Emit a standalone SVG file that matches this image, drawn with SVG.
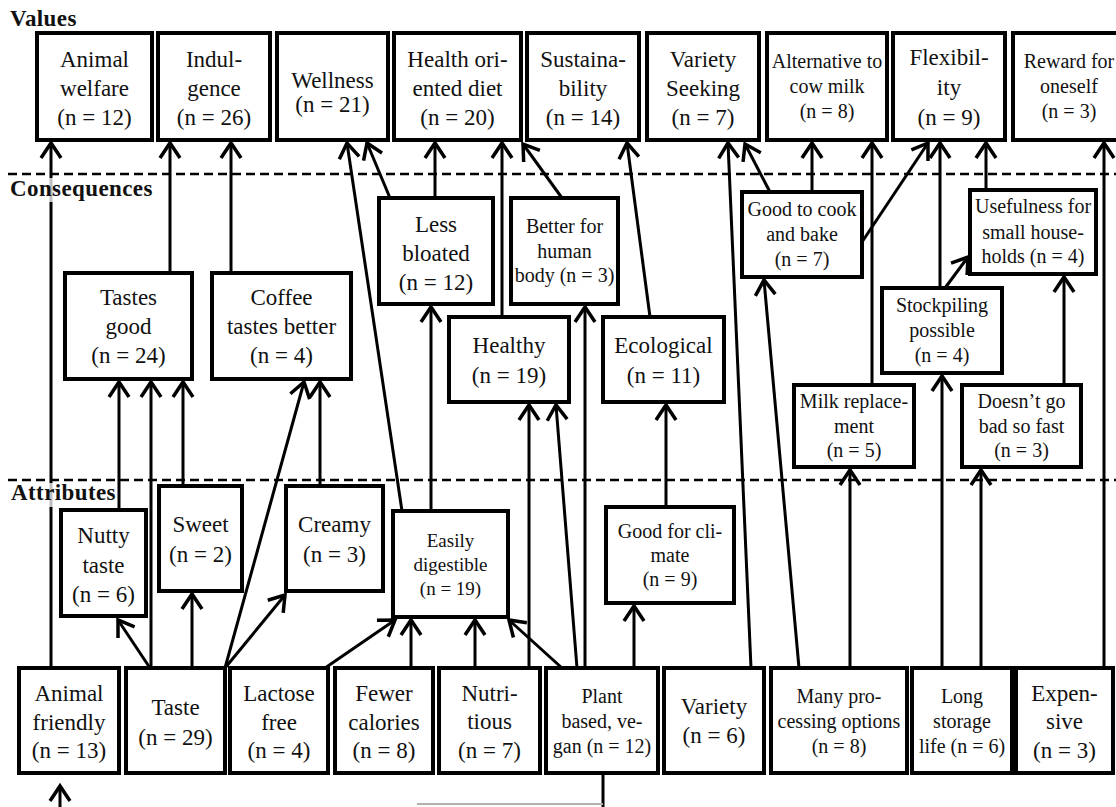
<svg xmlns="http://www.w3.org/2000/svg" width="1116" height="807" viewBox="0 0 1116 807">
<defs>
<style>
rect.b{fill:#fff;stroke:#000;stroke-width:4}
text{font-family:"Liberation Serif","Times New Roman",serif;fill:#111;text-anchor:middle}
.L{font-size:23px}
.S{font-size:20px}
.h{font-size:23px;font-weight:bold;text-anchor:start;letter-spacing:0.4px}
#conn line,#conn path{stroke:#000;stroke-width:3;fill:none}
#conn line.ar{marker-end:url(#arr)}
.dash{stroke:#000;stroke-width:2.5;stroke-dasharray:9 5}
</style>
<marker id="arr" markerUnits="userSpaceOnUse" viewBox="-20 -14 24 28" markerWidth="24" markerHeight="28" refX="0" refY="0" orient="auto">
<path d="M-15,-10 L0,0 L-15,10" fill="none" stroke="#000" stroke-width="3.5"/>
</marker>
</defs>
<rect width="1116" height="807" fill="#fff"/>
<line class="dash" x1="8" y1="174" x2="1116" y2="174"/>
<line class="dash" x1="8" y1="480" x2="1116" y2="480"/>

<g id="conn">
<line class="ar" x1="51" y1="668" x2="51" y2="143"/>
<line class="ar" x1="60" y1="807" x2="60" y2="786"/>
<line x1="603" y1="773" x2="603" y2="807"/>
<line x1="603" y1="804" x2="417" y2="804" style="stroke:#b0b0b0;stroke-width:2"/>
<line class="ar" x1="150" y1="668" x2="118" y2="620"/>
<line class="ar" x1="151" y1="668" x2="151" y2="382"/>
<line class="ar" x1="192" y1="668" x2="192" y2="594"/>
<line class="ar" x1="225" y1="668" x2="304" y2="382"/>
<line class="ar" x1="225" y1="668" x2="285" y2="595"/>
<line class="ar" x1="320" y1="486" x2="320" y2="382"/>
<line class="ar" x1="119" y1="510" x2="119" y2="382"/>
<line class="ar" x1="183" y1="486" x2="183" y2="382"/>
<line class="ar" x1="170" y1="273" x2="170" y2="143"/>
<line class="ar" x1="231" y1="273" x2="231" y2="143"/>
<line class="ar" x1="402" y1="511" x2="347" y2="143"/>
<line class="ar" x1="390" y1="198" x2="367" y2="143"/>
<line class="ar" x1="435" y1="198" x2="435" y2="143"/>
<line class="ar" x1="431" y1="511" x2="431" y2="307"/>
<line class="ar" x1="502" y1="317" x2="502" y2="143"/>
<line class="ar" x1="562" y1="198" x2="523" y2="144"/>
<line class="ar" x1="650" y1="317" x2="627" y2="143"/>
<line class="ar" x1="585" y1="668" x2="585" y2="307"/>
<line class="ar" x1="577" y1="668" x2="556" y2="405"/>
<line class="ar" x1="529" y1="668" x2="529" y2="405"/>
<line class="ar" x1="562" y1="668" x2="509" y2="620"/>
<line class="ar" x1="475" y1="668" x2="475" y2="620"/>
<line class="ar" x1="411" y1="668" x2="411" y2="620"/>
<line class="ar" x1="325" y1="668" x2="395" y2="620"/>
<line class="ar" x1="634" y1="668" x2="634" y2="606"/>
<line class="ar" x1="666" y1="507" x2="666" y2="405"/>
<line class="ar" x1="751" y1="668" x2="728" y2="143"/>
<line class="ar" x1="799" y1="668" x2="764" y2="280"/>
<line class="ar" x1="850" y1="668" x2="850" y2="470"/>
<line class="ar" x1="770" y1="192" x2="745" y2="144"/>
<line class="ar" x1="812" y1="192" x2="812" y2="143"/>
<line class="ar" x1="862" y1="242" x2="928" y2="143"/>
<line class="ar" x1="872" y1="385" x2="872" y2="143"/>
<line class="ar" x1="942" y1="668" x2="942" y2="376"/>
<line class="ar" x1="940" y1="288" x2="940" y2="143"/>
<line class="ar" x1="945" y1="288" x2="968" y2="257"/>
<line class="ar" x1="981" y1="668" x2="981" y2="470"/>
<line class="ar" x1="1064" y1="385" x2="1064" y2="277"/>
<line class="ar" x1="986" y1="190" x2="986" y2="143"/>
<line class="ar" x1="1104" y1="668" x2="1104" y2="143"/>
</g>

<g id="labels">
<text class="h" x="10" y="26">Values</text>
<rect x="8" y="178" width="150" height="24" fill="#fff" opacity="0.75"/>
<text class="h" x="10" y="196">Consequences</text>
<rect x="8" y="483" width="100" height="24" fill="#fff" opacity="0.75"/>
<text class="h" x="11" y="500">Attributes</text>
</g>

<g id="v1"><rect class="b" x="37" y="33" width="115" height="107"/><text class="L"><tspan x="94.5" y="67">Animal</tspan><tspan x="94.5" y="96">welfare</tspan><tspan x="94.5" y="125">(n = 12)</tspan></text></g>
<g id="v2"><rect class="b" x="158" y="33" width="112" height="107"/><text class="L"><tspan x="214" y="67">Indul-</tspan><tspan x="214" y="96">gence</tspan><tspan x="214" y="125">(n = 26)</tspan></text></g>
<g id="v3"><rect class="b" x="277" y="33" width="111" height="107"/><text class="L"><tspan x="332.5" y="88">Wellness</tspan><tspan x="332.5" y="112">(n = 21)</tspan></text></g>
<g id="v4"><rect class="b" x="394" y="33" width="127" height="107"/><text class="L"><tspan x="457.5" y="67">Health ori-</tspan><tspan x="457.5" y="96">ented diet</tspan><tspan x="457.5" y="125">(n = 20)</tspan></text></g>
<g id="v5"><rect class="b" x="527" y="33" width="112" height="107"/><text class="L"><tspan x="583" y="67">Sustaina-</tspan><tspan x="583" y="96">bility</tspan><tspan x="583" y="125">(n = 14)</tspan></text></g>
<g id="v6"><rect class="b" x="647" y="33" width="112" height="107"/><text class="L"><tspan x="703" y="67">Variety</tspan><tspan x="703" y="96">Seeking</tspan><tspan x="703" y="125">(n = 7)</tspan></text></g>
<g id="v7"><rect class="b" x="767" y="33" width="120" height="107"/><text class="S"><tspan x="827" y="68">Alternative to</tspan><tspan x="827" y="93">cow milk</tspan><tspan x="827" y="118">(n = 8)</tspan></text></g>
<g id="v8"><rect class="b" x="893" y="33" width="112" height="107"/><text class="L"><tspan x="949" y="65">Flexibil-</tspan><tspan x="949" y="95">ity</tspan><tspan x="949" y="125">(n = 9)</tspan></text></g>
<g id="v9"><rect class="b" x="1013" y="33" width="112" height="107"/><text class="S"><tspan x="1069" y="68">Reward for</tspan><tspan x="1069" y="93">oneself</tspan><tspan x="1069" y="118">(n = 3)</tspan></text></g>

<g id="c1"><rect class="b" x="65" y="273" width="127" height="106"/><text class="L"><tspan x="128.5" y="305">Tastes</tspan><tspan x="128.5" y="334">good</tspan><tspan x="128.5" y="363">(n = 24)</tspan></text></g>
<g id="c2"><rect class="b" x="212" y="273" width="139" height="106"/><text class="L"><tspan x="281.5" y="305">Coffee</tspan><tspan x="281.5" y="334">tastes better</tspan><tspan x="281.5" y="363">(n = 4)</tspan></text></g>
<g id="c3"><rect class="b" x="379" y="198" width="114" height="106"/><text class="L"><tspan x="436" y="232">Less</tspan><tspan x="436" y="261">bloated</tspan><tspan x="436" y="290">(n = 12)</tspan></text></g>
<g id="c4"><rect class="b" x="511" y="198" width="107" height="106"/><text class="S"><tspan x="564.5" y="233">Better for</tspan><tspan x="564.5" y="258">human</tspan><tspan x="564.5" y="282">body (n = 3)</tspan></text></g>
<g id="c5"><rect class="b" x="449" y="317" width="120" height="85"/><text class="L"><tspan x="509" y="353">Healthy</tspan><tspan x="509" y="383">(n = 19)</tspan></text></g>
<g id="c6"><rect class="b" x="603" y="317" width="121" height="85"/><text class="L"><tspan x="663.5" y="353">Ecological</tspan><tspan x="663.5" y="383">(n = 11)</tspan></text></g>
<g id="c7"><rect class="b" x="742" y="192" width="120" height="85"/><text class="S"><tspan x="802" y="216">Good to cook</tspan><tspan x="802" y="241">and bake</tspan><tspan x="802" y="266">(n = 7)</tspan></text></g>
<g id="c8"><rect class="b" x="970" y="190" width="126" height="84"/><text class="S"><tspan x="1033" y="213">Usefulness for</tspan><tspan x="1033" y="239">small house-</tspan><tspan x="1033" y="263">holds (n = 4)</tspan></text></g>
<g id="c9"><rect class="b" x="882" y="288" width="120" height="85"/><text class="S"><tspan x="942" y="312">Stockpiling</tspan><tspan x="942" y="337">possible</tspan><tspan x="942" y="362">(n = 4)</tspan></text></g>
<g id="c10"><rect class="b" x="794" y="385" width="120" height="82"/><text class="S"><tspan x="854" y="408">Milk replace-</tspan><tspan x="854" y="433">ment</tspan><tspan x="854" y="457">(n = 5)</tspan></text></g>
<g id="c11"><rect class="b" x="962" y="385" width="119" height="82"/><text class="S"><tspan x="1021.5" y="408">Doesn’t go</tspan><tspan x="1021.5" y="433">bad so fast</tspan><tspan x="1021.5" y="457">(n = 3)</tspan></text></g>

<g id="a1"><rect class="b" x="61" y="510" width="85" height="106"/><text class="L"><tspan x="103.5" y="543">Nutty</tspan><tspan x="103.5" y="573">taste</tspan><tspan x="103.5" y="602">(n = 6)</tspan></text></g>
<g id="a2"><rect class="b" x="159" y="486" width="83" height="105"/><text class="L"><tspan x="200.5" y="532">Sweet</tspan><tspan x="200.5" y="562">(n = 2)</tspan></text></g>
<g id="a3"><rect class="b" x="286" y="486" width="97" height="105"/><text class="L"><tspan x="334.5" y="532">Creamy</tspan><tspan x="334.5" y="562">(n = 3)</tspan></text></g>
<g id="a4"><rect class="b" x="393" y="511" width="115" height="106"/><text class="S" style="font-size:19px"><tspan x="450.5" y="547">Easily</tspan><tspan x="450.5" y="571">digestible</tspan><tspan x="450.5" y="595">(n = 19)</tspan></text></g>
<g id="a5"><rect class="b" x="606" y="507" width="128" height="96"/><text class="S"><tspan x="670" y="538">Good for cli-</tspan><tspan x="670" y="562">mate</tspan><tspan x="670" y="586">(n = 9)</tspan></text></g>

<g id="b1"><rect class="b" x="19" y="668" width="100" height="105"/><text class="L"><tspan x="69" y="701">Animal</tspan><tspan x="69" y="730">friendly</tspan><tspan x="69" y="758">(n = 13)</tspan></text></g>
<g id="b2"><rect class="b" x="126" y="668" width="99" height="105"/><text class="L"><tspan x="175.5" y="715">Taste</tspan><tspan x="175.5" y="745">(n = 29)</tspan></text></g>
<g id="b3"><rect class="b" x="230" y="668" width="98" height="105"/><text class="L"><tspan x="279" y="701">Lactose</tspan><tspan x="279" y="730">free</tspan><tspan x="279" y="758">(n = 4)</tspan></text></g>
<g id="b4"><rect class="b" x="335" y="668" width="98" height="105"/><text class="L"><tspan x="384" y="701">Fewer</tspan><tspan x="384" y="730">calories</tspan><tspan x="384" y="758">(n = 8)</tspan></text></g>
<g id="b5"><rect class="b" x="439" y="668" width="101" height="105"/><text class="L"><tspan x="489.5" y="701">Nutri-</tspan><tspan x="489.5" y="729">tious</tspan><tspan x="489.5" y="758">(n = 7)</tspan></text></g>
<g id="b6"><rect class="b" x="546" y="668" width="112" height="105"/><text class="S"><tspan x="602" y="703">Plant</tspan><tspan x="602" y="728">based, ve-</tspan><tspan x="602" y="753">gan (n = 12)</tspan></text></g>
<g id="b7"><rect class="b" x="664" y="668" width="100" height="105"/><text class="L"><tspan x="714" y="714">Variety</tspan><tspan x="714" y="743">(n = 6)</tspan></text></g>
<g id="b8"><rect class="b" x="771" y="668" width="136" height="105"/><text class="S"><tspan x="839" y="703">Many pro-</tspan><tspan x="839" y="728">cessing options</tspan><tspan x="839" y="753">(n = 8)</tspan></text></g>
<g id="b9"><rect class="b" x="912" y="668" width="100" height="105"/><text class="S"><tspan x="962" y="703">Long</tspan><tspan x="962" y="728">storage</tspan><tspan x="962" y="753">life (n = 6)</tspan></text></g>
<g id="b10"><rect class="b" x="1016" y="668" width="97" height="105"/><text class="L"><tspan x="1064.5" y="701">Expen-</tspan><tspan x="1064.5" y="729">sive</tspan><tspan x="1064.5" y="758">(n = 3)</tspan></text></g>
</svg>
